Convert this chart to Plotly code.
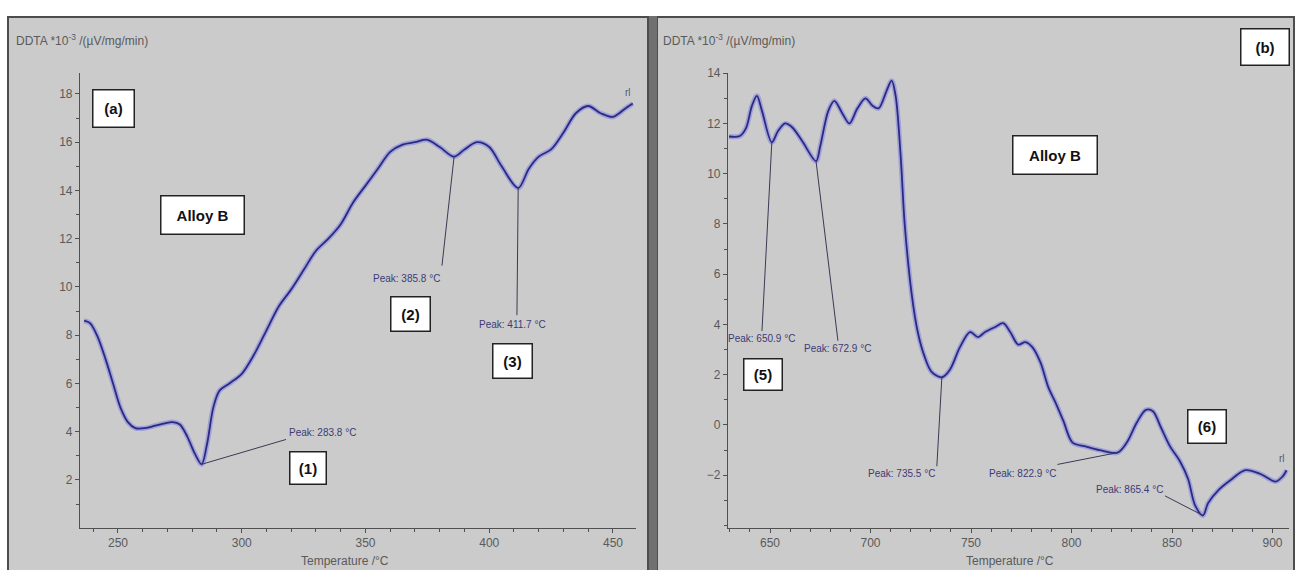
import plotly.graph_objects as go

# ---------------- data ----------------
left_T = [236.3, 238.7, 241.5, 245, 248, 251, 254, 257, 261, 265, 269, 272, 275, 278, 281, 283.8,
          286, 288.5, 291, 295, 300, 305, 310, 315, 320, 325, 330, 335, 340, 345, 350, 355, 360,
          365, 370, 375, 380, 385.8, 390, 395, 400, 405, 411.7, 416, 420, 425, 430, 435, 440,
          445, 450, 455, 458]
left_v = [8.6, 8.5, 8.0, 7.0, 6.0, 5.0, 4.4, 4.15, 4.15, 4.25, 4.35, 4.4, 4.3, 3.8, 3.1, 2.65,
          3.5, 5.0, 5.7, 6.0, 6.4, 7.2, 8.2, 9.2, 9.9, 10.7, 11.5, 12.0, 12.6, 13.5, 14.2, 14.9, 15.6,
          15.9, 16.0, 16.1, 15.8, 15.4, 15.7, 16.0, 15.8, 15.0, 14.1, 14.9, 15.4, 15.7, 16.4, 17.2, 17.5,
          17.2, 17.05, 17.4, 17.6]

right_T = [629.6, 635, 638, 641, 643.5, 646, 650.9, 654, 657.5, 661, 666, 672.9, 675, 679, 682,
           686, 689.5, 693.5, 697.5, 701, 704, 708, 710.5, 712.5, 715, 717, 720.5, 723.5, 727,
           730.5, 735.5, 739.5, 744.5, 749.5, 753.5, 757, 762, 766, 769.5, 773.5, 777, 780.5,
           784.5, 788.5, 792, 796, 800.5, 807, 814, 822.9, 827.5, 832.5, 837, 840.5, 844.5, 849,
           854, 858, 861.5, 865.4, 868, 873, 879, 886.5, 894, 901.5, 905, 907]
right_v = [11.48, 11.5, 11.8, 12.7, 13.1, 12.5, 11.25, 11.7, 12.0, 11.85, 11.3, 10.5, 11.1, 12.5, 12.9,
           12.4, 12.0, 12.6, 13.0, 12.7, 12.6, 13.3, 13.7, 13.1, 10.7, 8.0, 5.2, 3.7, 2.7,
           2.1, 1.9, 2.2, 3.1, 3.7, 3.5, 3.7, 3.9, 4.05, 3.7, 3.2, 3.3, 3.1,
           2.5, 1.5, 0.9, 0.15, -0.7, -0.85, -1.0, -1.1, -0.7, 0.1, 0.6, 0.55, -0.1, -0.85,
           -1.45, -2.15, -3.2, -3.6, -3.1, -2.6, -2.2, -1.8, -1.95, -2.25, -2.05, -1.8]

left_peak_T = [283.8, 385.8, 411.7]
left_peak_v = [2.65, 15.4, 14.1]
left_peak_text = ["Peak: 283.8 °C", "Peak: 385.8 °C", "Peak: 411.7 °C"]

right_peak_T = [650.9, 672.9, 735.5, 822.9, 865.4]
right_peak_v = [11.25, 10.5, 1.9, -1.1, -3.6]
right_peak_text = ["Peak: 650.9 °C", "Peak: 672.9 °C", "Peak: 735.5 °C", "Peak: 822.9 °C", "Peak: 865.4 °C"]

left_xticks = [250, 300, 350, 400, 450]
left_yticks = [2, 4, 6, 8, 10, 12, 14, 16, 18]
right_xticks = [650, 700, 750, 800, 850, 900]
right_yticks = [-2, 0, 2, 4, 6, 8, 10, 12, 14]

y_label = "DDTA *10<sup>-3</sup> /(µV/mg/min)"
x_label = "Temperature /°C"

# ---------------- styles ----------------
W, H = 1299, 570
BG = "#cbcbcb"
AX = "#505050"
LINE = "#2a2a80"
HALO = "rgba(110,110,235,0.45)"
PEAKC = "#3b3b78"
NARROW = "Liberation Sans Narrow, Liberation Sans, Arial"
BOLD = "Liberation Sans, Arial"


def px(x):
    return x / W


def py(y):
    return (H - y) / H


fig = go.Figure()

for T, v, xa, ya in [(left_T, left_v, "x", "y"), (right_T, right_v, "x2", "y2")]:
    fig.add_trace(go.Scatter(x=T, y=v, xaxis=xa, yaxis=ya, mode="lines",
                             line=dict(color=HALO, width=5, shape="spline", smoothing=0.9),
                             hoverinfo="skip", showlegend=False))
    fig.add_trace(go.Scatter(x=T, y=v, xaxis=xa, yaxis=ya, mode="lines",
                             line=dict(color=LINE, width=1.8, shape="spline", smoothing=0.9),
                             showlegend=False))

shapes = []
# panel backgrounds
shapes.append(dict(type="rect", xref="paper", yref="paper", x0=px(8), x1=px(648), y0=py(572), y1=py(10),
                   fillcolor=BG, line=dict(color="#4d4d4d", width=2), layer="below"))
shapes.append(dict(type="rect", xref="paper", yref="paper", x0=px(657), x1=px(1294), y0=py(572), y1=py(10),
                   fillcolor=BG, line=dict(color="#4d4d4d", width=2), layer="below"))
shapes.append(dict(type="rect", xref="paper", yref="paper", x0=px(649), x1=px(657), y0=py(572), y1=py(9),
                   fillcolor="#707070", line=dict(width=0), layer="below"))

annotations = []

# leader line label anchors (layout positions of the peak labels)
left_label_pos = [(317.9, 3.68, 318.3, 3.95, "left"),
                  (380.9, 10.88, 381.0, 10.35, "right"),
                  (411.2, 8.83, 409.5, 8.45, "center")]
right_label_pos = [(646.0, 3.74, 646.0, 3.45, "center"),
                   (683.8, 3.35, 683.8, 3.05, "center"),
                   (733.0, -1.64, 733.0, -1.93, "right"),
                   (793.0, -1.57, 793.5, -1.93, "right"),
                   (846.5, -2.82, 846.5, -2.58, "right")]

for (T, v, txt, pos, xa, ya) in (
        [(a, b, c, d, "x", "y") for a, b, c, d in zip(left_peak_T, left_peak_v, left_peak_text, left_label_pos)] +
        [(a, b, c, d, "x2", "y2") for a, b, c, d in zip(right_peak_T, right_peak_v, right_peak_text, right_label_pos)]):
    lx, ly, tx, ty, anchor = pos
    shapes.append(dict(type="line", xref=xa, yref=ya, x0=T, y0=v, x1=lx, y1=ly,
                       line=dict(color="#3a3a55", width=1)))
    annotations.append(dict(xref=xa, yref=ya, x=tx, y=ty, text=txt, showarrow=False,
                            xanchor=anchor, yanchor="middle",
                            font=dict(family=NARROW, size=10, color=PEAKC)))

# boxed labels: (text, xref, yref, x, y, w, h)
boxes = [("(a)", "x", "y", 248.2, 17.38, 40, 36),
         ("Alloy B", "x", "y", 284.0, 13.0, 82, 37),
         ("(1)", "x", "y", 326.8, 2.49, 35, 31),
         ("(2)", "x", "y", 368.0, 8.87, 38, 33),
         ("(3)", "x", "y", 409.6, 6.95, 38, 33),
         ("(b)", "paper", "paper", px(1265), py(40), 47, 35),
         ("Alloy B", "x2", "y2", 791.8, 10.74, 83, 37),
         ("(5)", "x2", "y2", 646.5, 2.01, 37, 30),
         ("(6)", "x2", "y2", 867.4, -0.07, 37, 32)]
for txt, xa, ya, x, y, w, h in boxes:
    annotations.append(dict(xref=xa, yref=ya, x=x, y=y, text="<b>%s</b>" % txt, showarrow=False,
                            xanchor="center", yanchor="middle", width=w, height=h, align="center",
                            valign="middle", bgcolor="white", bordercolor="#222222", borderwidth=1.5,
                            borderpad=0, font=dict(family=BOLD, size=15, color="#111111")))

# axis titles
for x0 in (14, 661):
    annotations.append(dict(xref="paper", yref="paper", x=px(x0), y=py(33), text=y_label, showarrow=False,
                            xanchor="left", yanchor="middle",
                            font=dict(family=NARROW, size=12, color="#5a5a5a")))
for xc in (345, 1010):
    annotations.append(dict(xref="paper", yref="paper", x=px(xc), y=py(561), text=x_label, showarrow=False,
                            xanchor="center", yanchor="middle",
                            font=dict(family=NARROW, size=12, color="#5a5a5a")))

# end-of-curve markers
annotations.append(dict(xref="x", yref="y", x=left_T[-1], y=left_v[-1], text="rl", showarrow=False,
                        xanchor="right", yanchor="bottom", yshift=4,
                        font=dict(family=NARROW, size=10, color="#555577")))
annotations.append(dict(xref="x2", yref="y2", x=right_T[-1], y=right_v[-1], text="rl", showarrow=False,
                        xanchor="right", yanchor="bottom", yshift=4,
                        font=dict(family=NARROW, size=10, color="#555577")))

tickfont = dict(family=NARROW, size=12, color="#5a5a5a")
common_x = dict(showline=True, linecolor=AX, linewidth=1.2, ticks="outside", ticklen=4, tickcolor=AX,
                showgrid=False, zeroline=False, tickfont=tickfont,
                minor=dict(dtick=10, ticks="outside", ticklen=3, tickcolor=AX))
common_y = dict(showline=True, linecolor=AX, linewidth=1.2, ticks="outside", ticklen=4, tickcolor=AX,
                showgrid=False, zeroline=False, tickfont=tickfont,
                minor=dict(dtick=1, ticks="outside", ticklen=3, tickcolor=AX))

ydom = [py(527), py(67)]
fig.update_layout(
    width=W, height=H, margin=dict(l=0, r=0, t=0, b=0),
    paper_bgcolor="white", plot_bgcolor="rgba(0,0,0,0)",
    shapes=shapes, annotations=annotations, showlegend=False,
    xaxis=dict(domain=[px(80), px(636)], range=[234.65, 459.3], tickvals=left_xticks, anchor="y", **common_x),
    yaxis=dict(domain=ydom, range=[0.03, 18.86], tickvals=left_yticks, anchor="x", **common_y),
    xaxis2=dict(domain=[px(728), px(1289)], range=[629.1, 908.2], tickvals=right_xticks, anchor="y2", **common_x),
    yaxis2=dict(domain=ydom, range=[-4.08, 14.0], tickvals=right_yticks, anchor="x2", **common_y),
)

fig.write_html("out.html", config={"displayModeBar": False},
               post_script="document.body.style.margin='0';document.body.style.padding='0';"
                           "document.documentElement.style.overflow='hidden';")
